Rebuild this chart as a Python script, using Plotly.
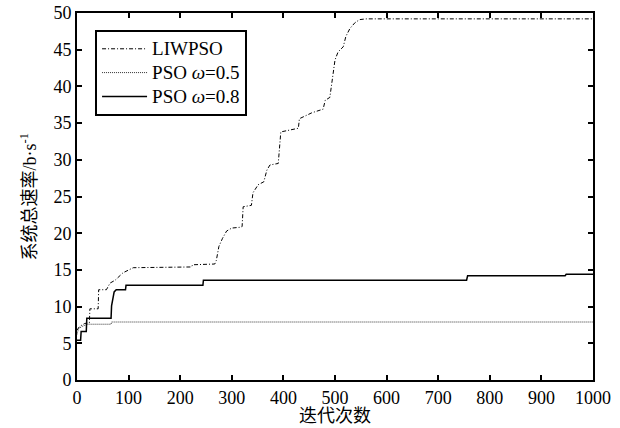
import plotly.graph_objects as go

# LIWPSO
liw_x = [0, 5, 15, 24, 25, 41, 42, 57, 64, 74, 89, 109, 222, 224, 267, 270, 275, 282, 290, 300,
         315, 320, 322, 338, 341, 351, 362, 368, 374, 390, 395, 429, 431, 455, 477, 481, 490, 493,
         496, 500, 506, 516, 521, 529, 539, 548, 560, 1000]
liw_y = [6.8, 7.3, 7.7, 7.8, 9.7, 9.7, 12.3, 12.3, 13.2, 13.6, 14.6, 15.3, 15.4, 15.7, 15.8, 16.3,
         18.2, 19.3, 20.3, 20.7, 20.8, 20.9, 23.6, 23.8, 25.5, 26.6, 27.0, 28.6, 29.3, 29.5, 33.8,
         34.3, 35.6, 36.4, 36.9, 38.1, 38.5, 40.0, 42.2, 43.6, 44.7, 45.4, 46.8, 47.9, 48.7, 49.1,
         49.2, 49.2]

# PSO w=0.5
p5_x = [0, 3, 10, 20, 66, 67, 1000]
p5_y = [6.2, 7.0, 7.3, 7.6, 7.6, 7.9, 7.9]

# PSO w=0.8
p8_x = [0, 7, 8, 18, 19, 66, 67, 72, 76, 94, 95, 244, 245, 755, 757, 946, 948, 1000]
p8_y = [5.4, 5.4, 6.6, 6.6, 8.4, 8.4, 10.1, 12.0, 12.3, 12.3, 12.9, 12.9, 13.6, 13.6, 14.2, 14.2,
        14.4, 14.4]

names = ["LIWPSO", "PSO <i>ω</i>=0.5", "PSO <i>ω</i>=0.8"]
x_ticks = list(range(0, 1001, 100))
y_ticks = list(range(0, 51, 5))
x_title = "迭代次数"
y_title = "系统总速率/b·s<sup>-1</sup>"

FONT = "Liberation Serif, Times New Roman, serif"
TITLE_FONT = "Liberation Serif, Noto Sans CJK SC, serif"


def big(t):
    return '<span style="font-size:19px">' + t + '</span>'


fig = go.Figure()
fig.add_trace(go.Scatter(x=liw_x, y=liw_y, mode="lines", name=big(names[0]),
                         line=dict(color="black", width=1, dash="4px,2px,1px,2px")))
fig.add_trace(go.Scatter(x=p5_x, y=p5_y, mode="lines", name=big(names[1]),
                         line=dict(color="#333333", width=1, dash="1px,1px")))
fig.add_trace(go.Scatter(x=p8_x, y=p8_y, mode="lines", name=big(names[2]),
                         line=dict(color="black", width=1.5)))

axis_common = dict(showline=True, linecolor="black", linewidth=2, mirror="ticks",
                   ticks="inside", ticklen=5, tickwidth=1.5, tickcolor="black",
                   showgrid=False, zeroline=False, automargin=False,
                   tickfont=dict(family=FONT, size=18, color="black"))

fig.update_layout(
    width=620, height=428,
    margin=dict(l=77, r=27, t=13, b=48),
    paper_bgcolor="white", plot_bgcolor="white",
    font=dict(family=FONT, color="black"),
    xaxis=dict(range=[0, 1000], tickvals=x_ticks, ticktext=[str(v) for v in x_ticks],
               **axis_common),
    yaxis=dict(range=[0, 50], tickvals=y_ticks, ticktext=[str(v) for v in y_ticks],
               **axis_common),
    legend=dict(x=0.035, y=0.954, xanchor="left", yanchor="top",
                bordercolor="black", borderwidth=2, bgcolor="white",
                font=dict(family=FONT, size=16, color="black"),
                tracegroupgap=0, itemwidth=45),
    showlegend=True,
    annotations=[
        dict(text=x_title, xref="paper", yref="paper", x=0.5, y=-0.1308,
             xanchor="center", yanchor="bottom", showarrow=False,
             font=dict(family=TITLE_FONT, size=18, color="black")),
        dict(text=y_title, xref="paper", yref="paper", x=-0.093, y=0.5,
             xanchor="center", yanchor="middle", textangle=-90, showarrow=False,
             font=dict(family=TITLE_FONT, size=18, color="black")),
    ],
)

fig.write_html("out.html", config={"displayModeBar": False},
               post_script="document.body.style.margin='0';document.body.style.padding='0';"
                           "document.documentElement.style.overflow='hidden';")
